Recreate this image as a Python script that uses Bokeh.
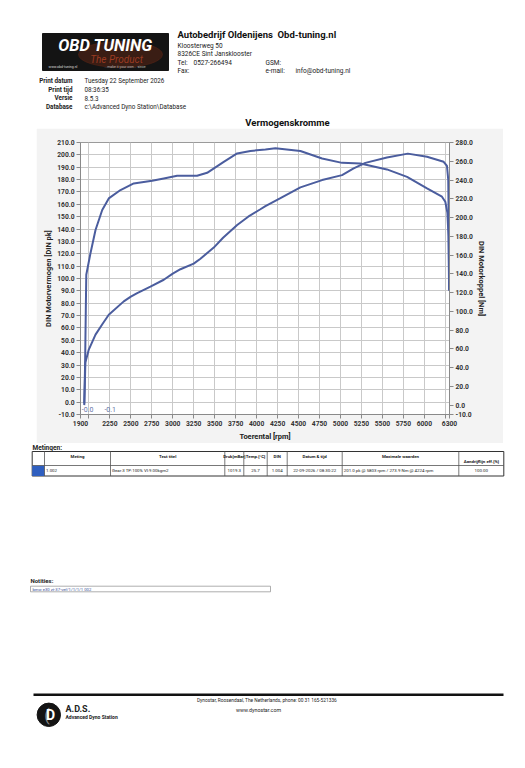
from bokeh.plotting import figure
from bokeh.models import Range1d, LinearAxis, FixedTicker, PrintfTickFormatter, Label, Spacer
from bokeh.layouts import column, row
from bokeh.core.properties import value
from bokeh.embed import file_html
from bokeh.resources import INLINE

FONT = "Roboto"

# ---------------- data ----------------
pk_rpm = [1945, 1952, 1958, 1999, 2079, 2160, 2237, 2416, 2500, 2576, 2734, 2893, 3000, 3092,
          3250, 3330, 3489, 3600, 3768, 3900, 4045, 4105, 4284, 4522, 4781, 5019, 5157, 5297,
          5554, 5803, 6032, 6230, 6270, 6285, 6290, 6293, 6295]
pk_val = [-1, 15, 32, 42.5, 54.6, 63, 70.7, 81.5, 85.4, 88.2, 93.5, 99, 104, 107.5,
          112, 116, 125, 133, 143.3, 150, 156, 158.6, 165, 173.7, 179.6, 183.6, 189, 193.5,
          197.9, 201.0, 198.5, 194.4, 191, 180, 150, 120, 91]

nm_rpm = [1945, 1955, 1963, 1969, 2019, 2079, 2159, 2237, 2377, 2535, 2754, 2893, 3052, 3290,
          3410, 3608, 3768, 3926, 4105, 4224, 4522, 4781, 5019, 5237, 5554, 5794, 6032, 6210,
          6250, 6275, 6288, 6292, 6295]
nm_val = [0, 45, 100, 139, 162, 186.7, 208, 220.4, 229.3, 236.4, 239.2, 241.7, 244.5, 244.5,
          247.7, 259.4, 268.3, 271, 272.6, 273.9, 271, 263, 258.3, 257.7, 251.3, 243.4, 231, 222.2,
          216.8, 205, 180, 150, 122]

x_ticks = [1900, 2000] + list(range(2250, 6251, 250)) + [6300]
x_hidden = [2000, 6250]
left_ticks = list(range(-10, 211, 10))
right_ticks = [-10] + list(range(0, 281, 20))

cursor_labels = ["-0.0", "-0.1"]

company = "Autobedrijf Oldenijens"
company_web = "Obd-tuning.nl"
address = ["Kloosterweg 50", "8326CE Sint Jansklooster"]
info_labels = ["Print datum", "Print tijd", "Versie", "Database"]
info_values = ["Tuesday 22 September 2026", "08:36:35", "8.5.3", "c:\\Advanced Dyno Station\\Database"]

table_headers = ["Meting", "Test titel", "Druk[mBar]", "Temp.[°C]", "DIN", "Datum & tijd",
                 "Maximale waarden", "Aandrijflijn eff.[%]"]
table_row = ["1.002", "Gear:3 TP:100% VI:9.00kgm2", "1019.3", "25.7", "1.004",
             "22-09-2026 / 08:30:22", "201.0 pk @ 5803 rpm / 273.9 Nm @ 4224 rpm", "100.00"]
note_text = "bmw e30 zt-37-vef/1/1/1/1 002"

LINE = "#4b5d9e"
PAGE_W = 525


def deco(height, y_top):
    f = figure(width=PAGE_W, height=height, x_range=Range1d(0, PAGE_W),
               y_range=Range1d(y_top + height, y_top), output_backend="svg",
               toolbar_location=None, min_border=0, x_axis_type=None, y_axis_type=None,
               outline_line_color=None, background_fill_color="white", border_fill_color="white")
    return f


def txt(f, x, y, s, size, style="normal", color="#1a1a1a", align="left", baseline="middle"):
    f.text(x=[x], y=[y], text=[s], text_font=value(FONT), text_font_size=f"{size}px",
           text_font_style=style, text_color=color, text_align=align, text_baseline=baseline)


# ---------------- header ----------------
h = deco(128, 0)
h.quad(left=[42], right=[168], top=[33], bottom=[70], color="#141414")
h.ellipse(x=[120], y=[54], width=[84], height=[26], color="#5a2414", alpha=0.55)
txt(h, 105, 45, "OBD TUNING", 16.5, "bold italic", "white", "center")
txt(h, 116, 58.5, "The Product", 10, "italic", "#9a3b22", "center")
txt(h, 48, 66.5, "www.obd-tuning.nl", 3.5, "normal", "#dddddd")
txt(h, 104, 66.5, "...make it your own... since", 3.5, "normal", "#bbbbbb")

txt(h, 177, 34, company, 9.5, "bold", "#111")
txt(h, 277, 34, company_web, 9.5, "bold", "#111")
txt(h, 177, 45, address[0], 6.5)
txt(h, 177, 53.5, address[1], 6.5)
txt(h, 177, 62, "Tel:", 6.5)
txt(h, 193, 62, "0527-266494", 6.5)
txt(h, 265, 62, "GSM:", 6.5)
txt(h, 177, 70.5, "Fax:", 6.5)
txt(h, 265, 70.5, "e-mail:", 6.5)
txt(h, 295, 70.5, "info@obd-tuning.nl", 6.5)

for i, (lab, val) in enumerate(zip(info_labels, info_values)):
    yy = 80.7 + i * 8.5
    txt(h, 72, yy, lab, 6.3, "bold", "#222", "right")
    txt(h, 84, yy, val, 6.3, "normal", "#222")

txt(h, 287, 121.5, "Vermogenskromme", 9.5, "bold", "#111", "center")

# ---------------- chart ----------------
p = figure(width=467, height=315, x_range=Range1d(1900, 6300), y_range=Range1d(-10, 210),
           output_backend="svg", toolbar_location=None,
           min_border_left=44, min_border_right=54, min_border_top=14, min_border_bottom=28,
           background_fill_color="white", border_fill_color="#f3f3f3",
           outline_line_color="#9a9a9a")
p.extra_y_ranges = {"nm": Range1d(-10, 280)}
ax_r = LinearAxis(y_range_name="nm", axis_label="DIN Motorkoppel [Nm]")
p.add_layout(ax_r, "right")

p.xaxis[0].ticker = FixedTicker(ticks=x_ticks)
p.xaxis[0].major_label_overrides = {t: "" for t in x_hidden}
p.xaxis[0].axis_label = "Toerental [rpm]"
p.yaxis[0].ticker = FixedTicker(ticks=left_ticks)
p.yaxis[0].formatter = PrintfTickFormatter(format="%.1f")
p.yaxis[0].axis_label = "DIN Motorvermogen [DIN pk]"
ax_r.ticker = FixedTicker(ticks=right_ticks)
ax_r.formatter = PrintfTickFormatter(format="%.1f")

for ax in (p.xaxis[0], p.yaxis[0], ax_r):
    ax.major_label_text_font = FONT
    ax.major_label_text_font_size = "6.7px"
    ax.major_label_text_font_style = "bold"
    ax.major_label_text_color = "#333333"
    ax.axis_label_text_font = FONT
    ax.axis_label_text_font_size = "7.5px"
    ax.axis_label_text_font_style = "bold"
    ax.axis_label_text_color = "#222222"
    ax.major_tick_in = 0
    ax.major_tick_out = 4
    ax.minor_tick_in = 0
    ax.minor_tick_out = 0
    ax.axis_line_color = "#8a8a8a"
    ax.major_tick_line_color = "#8a8a8a"
    ax.major_label_standoff = 2
    ax.axis_label_standoff = 1
p.xaxis[0].axis_label_standoff = 3

p.xgrid.grid_line_color = "#c9c9c9"
p.ygrid.grid_line_color = "#c9c9c9"

p.line(nm_rpm, nm_val, y_range_name="nm", line_color=LINE, line_width=2)
p.line(pk_rpm, pk_val, line_color=LINE, line_width=2)

p.add_layout(Label(x=1915, y=-6, text=cursor_labels[0], text_font=FONT, text_font_size="7px",
                   text_color="#6574a8", text_baseline="middle"))
p.add_layout(Label(x=2185, y=-6, text=cursor_labels[1], text_font=FONT, text_font_size="7px",
                   text_color="#6574a8", text_baseline="middle"))

# ---------------- footer ----------------
f = deco(322, 443)
txt(f, 32, 447, "Metingen:", 6.5, "bold", "#222")
cols = [31.7, 44, 110, 224.3, 243.3, 266.7, 286.7, 341.7, 458.3, 503.3]
top, mid, bot = 451, 465, 475.5
f.quad(left=[cols[0]], right=[cols[-1]], top=[top], bottom=[bot], fill_color="white",
       line_color="#333333", line_width=1)
f.quad(left=[cols[0]], right=[cols[1]], top=[mid], bottom=[bot], fill_color="#2f5fc0",
       line_color=None)
f.segment(x0=[cols[0]], y0=[mid], x1=[cols[-1]], y1=[mid], line_color="#555555", line_width=0.8)
f.segment(x0=cols[1:-1], y0=[top] * 8, x1=cols[1:-1], y1=[bot] * 8, line_color="#555555",
          line_width=0.8)
centers = [(cols[i] + cols[i + 1]) / 2 for i in range(1, 9)]
for i, hd in enumerate(table_headers):
    yy = 460.5 if i == 7 else 455.5
    txt(f, centers[i], yy, hd, 4.4, "bold", "#222", "center")
for i, v in enumerate(table_row):
    if i in (0, 1):
        txt(f, cols[i + 1] + 1.5, 470.3, v, 4.4, "normal", "#222")
    elif i == 6:
        txt(f, cols[7] + 1.5, 470.3, v, 4.4, "normal", "#222")
    else:
        txt(f, centers[i], 470.3, v, 4.4, "normal", "#222", "center")

txt(f, 30, 580, "Notities:", 6, "bold", "#222")
f.quad(left=[30], right=[270], top=[585.7], bottom=[591.3], fill_color="white",
       line_color="#999999", line_width=0.8)
txt(f, 32, 588.5, note_text, 4.2, "normal", "#3a4f9a")

f.segment(x0=[33], y0=[694.3], x1=[503], y1=[694.3], line_color="#111111", line_width=2.5)
f.circle(x=[48.3], y=[714.3], radius=11.7, color="#141414")
txt(f, 46.5, 714.8, "(", 16, "normal", "#888888", "center")
txt(f, 50, 714.8, "D", 14, "bold", "white", "center")
txt(f, 65, 708, "A.D.S.", 9, "bold", "#222")
txt(f, 65, 716.5, "Advanced Dyno Station", 5, "bold", "#222")
txt(f, 267, 700, "Dynostar,  Roosendaal, The Netherlands, phone: 00 31 165-521336", 4.8,
    "normal", "#222", "center")
txt(f, 258, 709.3, "www.dynostar.com", 5.3, "normal", "#222", "center")

layout = column(h, row(Spacer(width=36, height=315), p, Spacer(width=22, height=315)), f)

open("out.html", "w").write(file_html(layout, INLINE))
